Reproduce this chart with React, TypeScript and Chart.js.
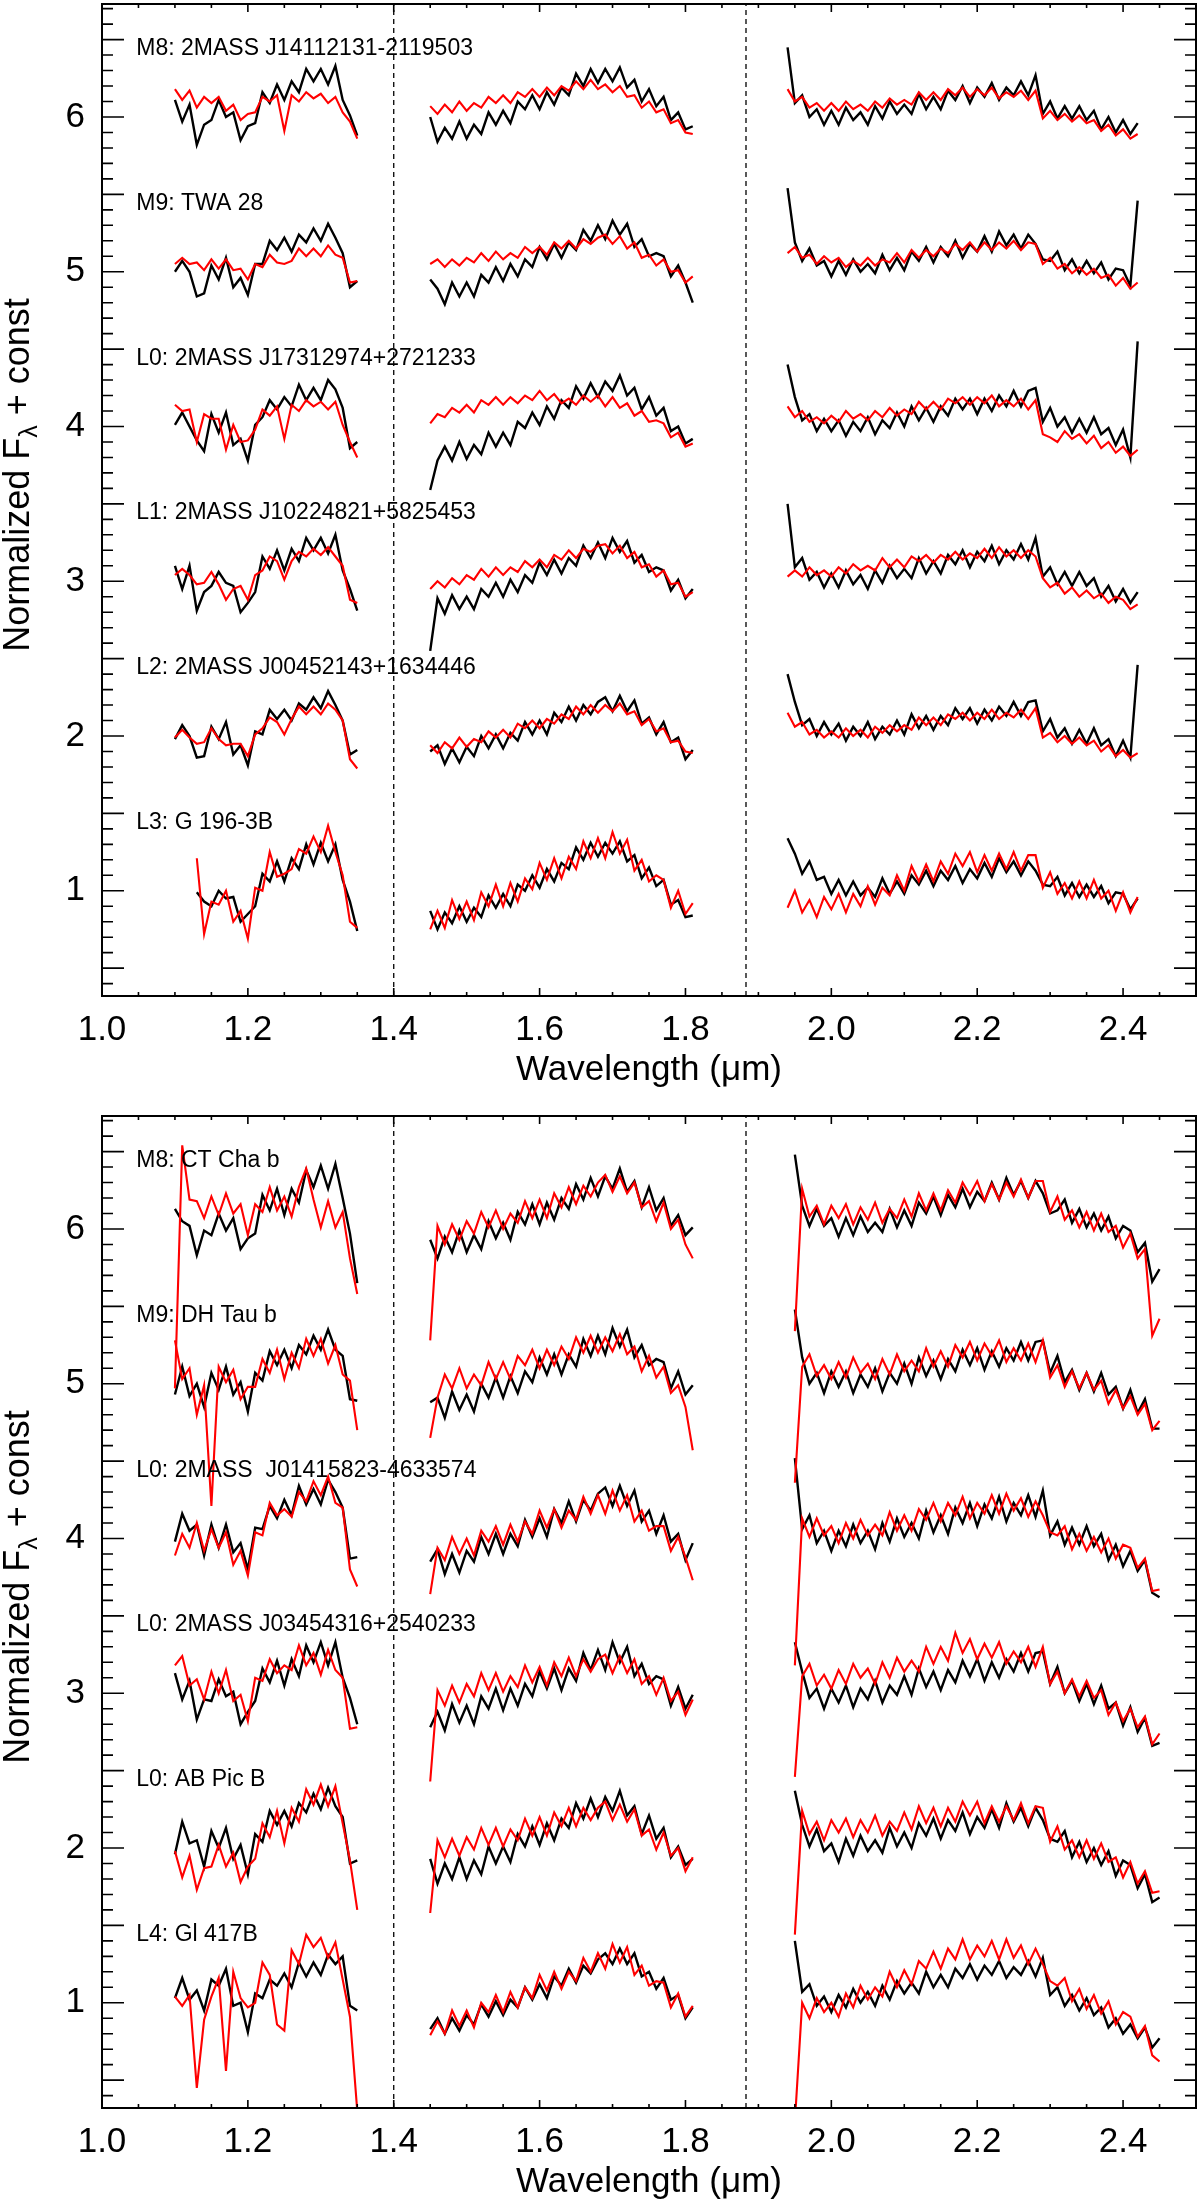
import { useEffect, useRef } from "react";
import { Chart, registerables } from "chart.js";

Chart.register(...registerables);

const FONT = '"Liberation Sans", Arial, Helvetica, sans-serif';
const BLACK = "#000000";
const RED = "#ff0000";

// axes
const X_MIN = 1.0;
const X_MAX = 2.5;
const Y_MIN = 0.32;
const Y_MAX = 6.73;
const X_TICKS = [1.0, 1.2, 1.4, 1.6, 1.8, 2.0, 2.2, 2.4];
const Y_TICKS = [1, 2, 3, 4, 5, 6];
const X_TITLE = "Wavelength (\u03bcm)";
const Y_TITLE = ["Normalized F", "\u03bb", " + const"];
const GAP_LINES = [1.4, 1.883];

// vertical offsets ("+ const") of the six spectra in each panel, top to bottom
const OFFSETS = [6, 5, 4, 3, 2, 1];
const LABEL_X = 1.047;
const LABEL_DY = 0.44;

const TOP_LABELS = [
  "M8: 2MASS J14112131-2119503",
  "M9: TWA 28",
  "L0: 2MASS J17312974+2721233",
  "L1: 2MASS J10224821+5825453",
  "L2: 2MASS J00452143+1634446",
  "L3: G 196-3B",
];
const BOT_LABELS = [
  "M8: CT Cha b",
  "M9: DH Tau b",
  "L0: 2MASS  J01415823-4633574",
  "L0: 2MASS J03454316+2540233",
  "L0: AB Pic B",
  "L4: Gl 417B",
];

// wavelength samples (um) of the three bands
const J_X = [1.10, 1.11, 1.12, 1.13, 1.14, 1.15, 1.16, 1.17, 1.18, 1.19, 1.20, 1.21, 1.22, 1.23, 1.24, 1.25, 1.26, 1.27, 1.28, 1.29, 1.30, 1.31, 1.32, 1.33, 1.34, 1.35];
const H_X = [1.45, 1.46, 1.47, 1.48, 1.49, 1.50, 1.51, 1.52, 1.53, 1.54, 1.55, 1.56, 1.57, 1.58, 1.59, 1.60, 1.61, 1.62, 1.63, 1.64, 1.65, 1.66, 1.67, 1.68, 1.69, 1.70, 1.71, 1.72, 1.73, 1.74, 1.75, 1.76, 1.77, 1.78, 1.79, 1.80, 1.81];
const K_X_TOP = [1.94, 1.95, 1.96, 1.97, 1.98, 1.99, 2.00, 2.01, 2.02, 2.03, 2.04, 2.05, 2.06, 2.07, 2.08, 2.09, 2.10, 2.11, 2.12, 2.13, 2.14, 2.15, 2.16, 2.17, 2.18, 2.19, 2.20, 2.21, 2.22, 2.23, 2.24, 2.25, 2.26, 2.27, 2.28, 2.29, 2.30, 2.31, 2.32, 2.33, 2.34, 2.35, 2.36, 2.37, 2.38, 2.39, 2.40, 2.41, 2.42];
const K_X_BOT = [1.95, 1.96, 1.97, 1.98, 1.99, 2.00, 2.01, 2.02, 2.03, 2.04, 2.05, 2.06, 2.07, 2.08, 2.09, 2.10, 2.11, 2.12, 2.13, 2.14, 2.15, 2.16, 2.17, 2.18, 2.19, 2.20, 2.21, 2.22, 2.23, 2.24, 2.25, 2.26, 2.27, 2.28, 2.29, 2.30, 2.31, 2.32, 2.33, 2.34, 2.35, 2.36, 2.37, 2.38, 2.39, 2.40, 2.41, 2.42, 2.43, 2.44, 2.45];

// all spectra: (flux - offset) in hundredths, one row per object, top to bottom

// ---- upper panel, black ----
const TOP_BLACK_J = [
  [11, -3, 8, -18, -5, -2, 11, 0, 3, -15, -6, -4, 16, 9, 21, 11, 23, 16, 31, 23, 31, 21, 33, 11, 1, -12],
  [0, 7, 0, -16, -14, 4, -5, 9, -10, -4, -15, 5, 5, 20, 14, 22, 13, 24, 19, 28, 20, 31, 22, 12, -10, -6],
  [1, 9, 0, -9, -16, 8, -4, 9, -12, -8, -22, 1, 6, 17, 11, 19, 13, 27, 17, 25, 17, 30, 24, 12, -14, -10],
  [10, -5, 10, -19, -7, -3, 6, -1, -3, -20, -14, -7, 16, 8, 20, 7, 21, 13, 28, 20, 28, 18, 30, 7, -5, -19],
  [-2, 7, 0, -14, -13, 6, -2, 9, -12, -6, -19, 3, 1, 17, 11, 17, 10, 21, 17, 25, 18, 29, 20, 10, -12, -9],
  [null, null, null, -1, -7, -10, 0, -5, -4, -20, -15, -10, 11, 6, 19, 6, 21, 14, 30, 17, 31, 19, 30, 7, -7, -26],
];
const TOP_BLACK_H = [
  [0, -16, -7, -14, -3, -14, -5, -11, 3, -5, 4, -4, 10, 5, 14, 5, 16, 8, 19, 14, 28, 20, 31, 22, 31, 23, 32, 19, 24, 10, 18, 7, 13, -2, 3, -8, -6],
  [-5, -11, -21, -7, -16, -7, -16, -2, -7, 3, -6, 5, -3, 8, 3, 16, 8, 18, 9, 19, 14, 27, 20, 30, 21, 33, 24, 31, 16, 21, 10, 12, 10, -3, 4, -7, -20],
  [-41, -22, -13, -22, -10, -21, -12, -18, -4, -13, -4, -12, 3, -1, 9, 1, 13, 5, 17, 12, 26, 18, 28, 19, 29, 23, 33, 20, 25, 11, 19, 7, 12, -3, 0, -11, -8],
  [-45, -11, -21, -9, -18, -10, -18, -5, -10, -1, -10, 1, -7, 4, -1, 12, 4, 14, 5, 15, 10, 23, 15, 25, 15, 28, 19, 26, 12, 17, 6, 9, 7, -6, 1, -11, -5],
  [-10, -6, -18, -8, -17, -7, -13, 0, -8, 1, -8, 2, -3, 9, 1, 10, 1, 15, 9, 19, 10, 20, 14, 22, 25, 16, 26, 16, 23, 8, 12, 1, 9, -4, -1, -15, -9],
  [-13, -25, -14, -21, -10, -20, -11, -17, -3, -11, -2, -10, 4, 0, 10, 2, 14, 6, 18, 14, 28, 20, 31, 22, 31, 24, 32, 19, 23, 8, 15, 3, 7, -9, -6, -17, -16],
];
const TOP_BLACK_K = [
  [45, 9, 14, 0, 5, -5, 4, -5, 6, -2, 3, -5, 7, -1, 10, 2, 8, 2, 15, 5, 13, 5, 17, 11, 20, 9, 19, 13, 22, 11, 19, 14, 23, 14, 27, 2, 10, -1, 7, -1, 7, -2, 4, -8, 0, -10, -2, -11, -4],
  [54, 19, 7, 15, 4, 7, -3, 7, -2, 8, 0, 5, -1, 11, 1, 9, 1, 13, 7, 16, 6, 16, 10, 20, 9, 18, 13, 23, 13, 26, 17, 24, 15, 24, 18, 8, 7, 13, 1, 8, -1, 7, -1, 6, -5, 2, 1, -9, 46],
  [40, 19, 4, 8, -3, 5, -3, 4, -6, 3, -3, 6, -5, 4, -1, 9, 0, 13, 4, 12, 3, 13, 7, 18, 11, 18, 8, 18, 10, 20, 13, 23, 13, 23, 25, 3, 12, 0, 6, -4, 5, -4, 6, -5, -1, -12, -2, -20, 55],
  [50, 9, 15, 1, 6, -4, 5, -4, 7, -2, 4, -5, 7, -1, 10, 2, 8, 2, 15, 5, 13, 5, 17, 11, 20, 9, 19, 13, 23, 11, 20, 14, 24, 14, 28, 3, 9, -2, 6, -3, 6, -3, 2, -10, -3, -13, -5, -14, -7],
  [40, 22, 7, 11, 0, 9, 1, 8, -3, 6, 0, 9, -2, 6, 1, 10, 1, 14, 5, 13, 4, 13, 7, 18, 11, 18, 8, 17, 10, 19, 13, 22, 13, 22, 23, 3, 11, -1, 5, -5, 4, -5, 5, -6, -2, -13, -3, -14, 46],
  [34, 24, 11, 19, 7, 9, -2, 7, -3, 6, -3, 2, -4, 8, -2, 6, -2, 10, 4, 13, 3, 13, 7, 16, 5, 14, 8, 18, 9, 21, 12, 19, 10, 19, 13, 4, 3, 9, -3, 5, -4, 4, -4, 3, -8, -1, -2, -12, -5],
];

// ---- upper panel, red ----
const TOP_RED_J = [
  [18, 11, 17, 6, 13, 9, 13, 4, 8, -2, 2, 3, 13, 10, 14, -9, 14, 10, 16, 12, 15, 9, 13, 3, -3, -14],
  [5, 9, 5, 6, 1, 8, 2, 8, 1, 2, -5, 5, 3, 11, 6, 5, 7, 15, 10, 15, 10, 17, 11, 9, -7, -6],
  [14, 10, 11, -10, 8, 5, 5, -15, 1, -10, -9, -2, 11, 7, 13, -8, 14, 10, 17, 13, 16, 11, 16, 1, -10, -20],
  [4, 8, 4, -2, -1, 6, -2, -12, -5, -3, -12, 4, 7, 16, 13, 1, 13, 19, 16, 21, 17, 22, 16, 10, -12, -14],
  [-1, 4, -1, -5, -4, 5, -2, -6, -5, -5, -13, 1, 5, 12, 9, 1, 11, 19, 14, 19, 14, 21, 17, 10, -15, -21],
  [null, null, null, 21, -28, -7, -9, 0, -20, -13, -31, 2, 0, 25, 9, 11, 14, 27, 24, 35, 25, 42, 25, 10, -20, -24],
];
const TOP_RED_H = [
  [7, 2, 8, 3, 10, 4, 9, 6, 13, 9, 14, 9, 16, 13, 18, 13, 19, 14, 20, 17, 23, 18, 24, 18, 21, 16, 20, 13, 14, 6, 10, 3, 5, -4, -2, -10, -11],
  [5, 8, 3, 8, 4, 9, 6, 12, 7, 13, 8, 12, 9, 16, 12, 16, 11, 19, 15, 20, 15, 21, 18, 22, 24, 18, 23, 15, 19, 9, 11, 4, 8, 0, 1, -7, -3],
  [2, 8, 6, 12, 9, 14, 9, 17, 14, 19, 14, 19, 15, 20, 17, 23, 17, 21, 15, 18, 14, 20, 16, 20, 13, 19, 12, 15, 7, 10, 3, 4, 2, -7, -4, -13, -11],
  [-5, 0, -4, 2, -2, 4, 1, 8, 3, 9, 4, 9, 6, 13, 9, 14, 9, 17, 14, 20, 15, 21, 19, 23, 24, 18, 23, 15, 19, 9, 11, 3, 7, -2, -1, -10, -7],
  [-6, -11, -4, -8, -1, -7, -2, -4, 3, -1, 4, -1, 8, 5, 10, 5, 11, 8, 14, 11, 19, 14, 20, 15, 20, 16, 21, 14, 16, 7, 11, 3, 5, -4, -3, -10, -11],
  [-25, -13, -24, -6, -18, -7, -19, -1, -10, 4, -10, 5, -7, 8, 1, 18, 7, 21, 8, 22, 14, 32, 21, 34, 21, 38, 24, 33, 13, 20, 6, 10, 7, -11, 0, -15, -8],
];
const TOP_RED_K = [
  [18, 10, 13, 6, 9, 4, 9, 4, 10, 5, 8, 4, 10, 6, 12, 8, 11, 8, 16, 11, 16, 11, 18, 14, 19, 13, 18, 14, 19, 12, 16, 13, 17, 11, 17, -1, 4, -2, 2, -3, 1, -4, -2, -9, -5, -12, -8, -14, -11],
  [12, 16, 9, 11, 5, 10, 6, 9, 3, 7, 4, 9, 4, 8, 6, 12, 6, 14, 9, 14, 10, 15, 12, 18, 14, 19, 13, 19, 14, 19, 15, 20, 14, 19, 18, 5, 9, 2, 5, -1, 3, -2, 2, -4, -2, -9, -4, -11, -7],
  [13, 6, 10, 3, 6, 2, 7, 3, 10, 5, 8, 4, 10, 6, 12, 7, 11, 8, 16, 11, 16, 11, 18, 15, 19, 14, 19, 15, 20, 13, 17, 13, 18, 11, 17, -5, -7, -10, -3, -8, -5, -11, -6, -14, -10, -17, -13, -19, -15],
  [3, 7, 3, 9, 4, 7, 3, 9, 5, 11, 7, 10, 7, 15, 9, 14, 9, 16, 13, 17, 12, 17, 14, 19, 14, 18, 15, 21, 15, 22, 16, 20, 15, 20, 16, 2, -4, -1, -8, -4, -10, -6, -11, -8, -14, -10, -12, -18, -15],
  [15, 6, 9, 1, 4, -1, 3, -1, 5, 0, 4, -1, 6, 2, 7, 3, 7, 4, 12, 7, 12, 7, 14, 11, 15, 10, 15, 11, 17, 11, 15, 12, 17, 11, 18, -1, 2, -4, 0, -5, -1, -6, -3, -10, -6, -13, -9, -14, -11],
  [-11, 0, -14, -6, -17, -4, -12, -2, -14, -2, -10, 3, -9, 2, -3, 10, 0, 16, 6, 17, 6, 19, 11, 24, 16, 25, 12, 23, 13, 24, 14, 25, 13, 23, 23, 2, 12, -2, 5, -5, 6, -5, 7, -5, 0, -13, -1, -14, -4],
];

// ---- lower panel, black ----
const BOT_BLACK_J = [
  [13, 5, 2, -17, -1, -4, 10, -1, 7, -13, -6, -3, 22, 12, 26, 9, 26, 17, 38, 27, 41, 26, 42, 20, -3, -35],
  [-7, 11, -8, 0, -15, 7, -4, 11, -7, 1, -18, 7, 2, 21, 12, 22, 10, 25, 19, 31, 22, 35, 22, 18, -10, -11],
  [-2, 16, 5, 9, -11, 9, -6, 9, -9, -3, -20, 7, 6, 21, 13, 25, 15, 34, 22, 32, 22, 38, 30, 20, -13, -12],
  [13, -4, 8, -17, -4, -5, 9, -2, 1, -20, -12, -5, 16, 7, 21, 5, 22, 11, 31, 20, 33, 18, 33, 10, -3, -20],
  [-4, 17, 3, 5, -12, 11, 0, 13, -7, 2, -17, 9, 4, 24, 15, 24, 14, 29, 23, 35, 25, 39, 27, 20, -10, -8],
  [3, 16, 2, 8, -5, 15, 11, 22, -2, 0, -19, 6, 3, 15, 11, 19, 10, 26, 17, 26, 18, 31, 25, 30, -2, -5],
];
const BOT_BLACK_H = [
  [-7, -19, -5, -15, -1, -15, -4, -13, 5, -6, 4, -7, 11, 3, 16, 3, 17, 6, 20, 13, 29, 19, 33, 21, 34, 26, 39, 24, 31, 14, 27, 12, 20, 2, 9, -4, 1],
  [-12, -9, -22, -5, -17, -7, -18, 0, -9, 4, -9, 5, -6, 8, 1, 17, 6, 19, 6, 19, 11, 29, 18, 31, 19, 36, 24, 35, 17, 25, 12, 16, 14, -3, 8, -7, -1],
  [-15, -7, -23, -10, -22, -8, -15, 1, -10, 3, -10, 3, -5, 12, 1, 13, 1, 19, 10, 24, 11, 25, 18, 29, 33, 21, 34, 21, 31, 11, 18, 3, 15, -2, 3, -14, -3],
  [-22, -12, -24, -7, -19, -8, -20, -2, -10, 3, -11, 3, -8, 6, -2, 14, 3, 16, 2, 16, 8, 26, 15, 28, 15, 33, 20, 30, 11, 19, 6, 11, 9, -8, 4, -10, -1],
  [-7, -23, -10, -20, -6, -20, -8, -17, 1, -10, 1, -9, 9, 1, 14, 2, 16, 5, 19, 13, 29, 19, 32, 20, 33, 24, 37, 21, 27, 9, 21, 6, 13, -6, 1, -11, -7],
  [-17, -10, -20, -10, -18, -8, -14, -1, -9, 1, -8, 2, -3, 10, 2, 12, 3, 17, 11, 22, 13, 24, 19, 28, 32, 25, 35, 25, 32, 17, 20, 9, 16, 2, 5, -10, -3],
];
const BOT_BLACK_K = [
  [48, 15, 2, 13, 2, 7, -5, 7, -4, 8, -2, 4, -2, 13, 1, 12, 2, 17, 10, 21, 9, 22, 14, 26, 14, 24, 18, 30, 19, 33, 22, 31, 20, 31, 23, 10, 12, 19, 4, 13, 1, 10, -1, 8, -6, 2, -1, -15, -9, -34, -26],
  [48, 17, 0, 7, -6, 8, -2, 8, -6, 6, -2, 10, -5, 7, 0, 13, 0, 17, 5, 15, 3, 16, 8, 22, 12, 23, 9, 21, 11, 23, 15, 27, 15, 27, 28, 7, 18, 1, 9, -4, 7, -5, 7, -7, -2, -16, -4, -19, -10, -29, -29],
  [52, 6, 15, -3, 5, -8, 5, -5, 9, -3, 5, -7, 10, -2, 13, 1, 10, 0, 18, 4, 15, 3, 20, 10, 23, 8, 22, 13, 27, 11, 23, 15, 28, 14, 31, 2, 11, -4, 7, -4, 8, -5, 3, -14, -4, -18, -8, -21, -14, -35, -38],
  [33, 14, -3, 3, -10, 3, -6, 5, -9, 3, -4, 8, -6, 5, -1, 11, -1, 16, 4, 14, 2, 15, 7, 21, 11, 22, 8, 20, 10, 22, 14, 26, 14, 26, 27, 6, 17, 0, 8, -5, 6, -7, 5, -10, -6, -21, -9, -25, -16, -34, -32],
  [37, 15, 1, 12, -2, 3, -9, 6, -5, 8, -2, 5, -3, 13, 1, 10, 0, 16, 8, 19, 6, 18, 11, 23, 9, 20, 13, 25, 13, 29, 17, 26, 14, 26, 18, 6, 4, 11, -6, 4, -9, 0, -11, -2, -18, -8, -11, -26, -17, -35, -32],
  [40, 7, 12, -2, 4, -6, 5, -3, 9, 0, 7, -2, 11, 2, 14, 6, 13, 6, 20, 10, 18, 10, 22, 16, 25, 15, 24, 18, 27, 16, 23, 18, 27, 17, 29, 5, 10, -2, 5, -5, 3, -8, -3, -16, -10, -20, -14, -23, -16, -29, -23],
];

// ---- lower panel, red ----
const BOT_RED_J = [
  [-103, 54, 19, 18, 7, 21, 9, 23, 10, 16, -4, 16, 11, 27, 12, 21, 8, 27, 39, 19, 1, 18, 1, 11, -19, -42],
  [28, 3, 10, -20, -1, -79, 11, 1, 9, -10, -2, -2, 16, 7, 22, 3, 20, 10, 29, 18, 29, 13, 25, 6, 2, -30],
  [-11, 3, -6, 10, -8, 6, -6, 4, -17, -8, -24, 4, 2, 23, 15, 19, 14, 30, 24, 37, 28, 40, 23, 20, -20, -31],
  [18, 24, 5, 9, -4, 14, 0, 15, -5, -1, -18, 10, 8, 22, 13, 18, 15, 31, 18, 26, 12, 28, 15, 10, -23, -22],
  [-2, -19, -5, -27, -13, -12, 2, -12, -3, -22, -12, -7, 16, 7, 24, 3, 26, 17, 38, 28, 41, 27, 40, 16, -8, -40],
  [4, -2, 5, -55, -11, 4, 16, -44, 20, 3, -3, 0, 26, 18, -14, -18, 34, 25, 44, 36, 42, 29, 39, 15, -9, -70],
];
const BOT_RED_H = [
  [-72, 2, -10, 3, -7, 5, -3, 11, 1, 12, 0, 10, 4, 18, 7, 19, 7, 23, 14, 27, 16, 28, 21, 30, 35, 24, 34, 23, 30, 14, 18, 5, 17, 0, 6, -10, -19],
  [-35, -9, 6, -3, 10, -3, 6, -1, 14, 3, 14, 3, 18, 12, 22, 10, 22, 12, 24, 16, 30, 20, 31, 20, 30, 21, 32, 19, 24, 8, 18, 4, 11, -6, -1, -15, -43],
  [-36, -6, -14, 1, -10, 0, -11, 5, -2, 8, -4, 9, -2, 11, 3, 18, 7, 19, 7, 18, 12, 27, 16, 28, 16, 31, 18, 28, 11, 18, 5, 8, 8, -8, 1, -12, -27],
  [-57, 2, -8, 5, -6, 6, -2, 13, 2, 13, 1, 11, 4, 18, 7, 17, 5, 20, 11, 23, 11, 22, 14, 22, 25, 13, 24, 13, 22, 6, 11, -1, 10, -5, 1, -14, -4],
  [-42, 5, -6, 6, -5, 7, -1, 13, 2, 13, 1, 12, 5, 19, 8, 20, 8, 23, 14, 26, 14, 26, 18, 26, 30, 18, 28, 17, 25, 8, 12, -1, 10, -5, 0, -15, -6],
  [-21, -12, -20, -5, -15, -5, -16, 0, -6, 5, -6, 7, -3, 10, 3, 18, 8, 20, 9, 20, 14, 29, 20, 32, 22, 38, 26, 36, 18, 24, 11, 14, 13, -3, 6, -9, -2],
];
const BOT_RED_K = [
  [-66, 26, 8, 15, 3, 15, 7, 16, 3, 14, 6, 17, 4, 13, 7, 19, 8, 23, 12, 23, 12, 25, 17, 30, 22, 31, 18, 29, 19, 30, 21, 32, 20, 31, 31, 11, 21, 6, 12, 1, 11, -1, 10, -2, 2, -12, -3, -19, -13, -69, -58],
  [-64, 11, 19, 5, 12, 3, 14, 4, 17, 7, 13, 3, 16, 6, 19, 8, 15, 8, 23, 11, 21, 11, 25, 17, 27, 15, 26, 18, 28, 14, 23, 15, 26, 14, 28, 4, 12, -2, 8, -3, 7, -4, 2, -13, -4, -16, -8, -20, -13, -30, -24],
  [-82, 13, 1, 13, 2, 8, -3, 10, 0, 12, 2, 9, 2, 17, 5, 15, 5, 19, 12, 23, 11, 23, 15, 27, 13, 23, 16, 28, 16, 29, 18, 26, 14, 24, 15, 4, 2, 8, -7, 3, -8, 1, -9, 0, -13, -4, -6, -19, -13, -34, -33],
  [-54, 11, 19, 5, 12, 3, 15, 6, 19, 10, 16, 6, 20, 10, 23, 14, 21, 14, 30, 19, 30, 21, 39, 26, 35, 22, 32, 23, 33, 19, 27, 20, 30, 17, 30, 6, 14, 0, 9, -2, 8, -3, 2, -14, -6, -18, -10, -22, -15, -33, -26],
  [-56, 24, 9, 17, 5, 18, 10, 19, 7, 18, 10, 21, 8, 17, 11, 23, 12, 27, 16, 26, 14, 26, 17, 30, 21, 30, 16, 27, 17, 27, 18, 29, 16, 27, 26, 4, 14, -1, 5, -6, 5, -7, 3, -9, -6, -19, -9, -23, -15, -29, -28],
  [-77, 0, -10, 3, -6, 0, -9, 6, -3, 11, 2, 10, 4, 20, 10, 21, 12, 27, 22, 33, 22, 35, 28, 41, 28, 37, 30, 40, 28, 41, 29, 37, 25, 35, 25, 14, 11, 16, 1, 9, -4, 5, -7, 1, -14, -6, -9, -22, -15, -34, -38],
];

type Pt = { x: number; y: number | null };

function band(xs: number[], ys: (number | null)[], c: number): Pt[] {
  return xs.map((x, i) => {
    const v = ys[i];
    return { x, y: v == null ? null : c + v / 100 };
  });
}

function spectrum(j: (number | null)[], h: number[], k: number[], kx: number[], c: number): Pt[] {
  return [
    ...band(J_X, j, c),
    { x: GAP_LINES[0], y: null },
    ...band(H_X, h, c),
    { x: GAP_LINES[1], y: null },
    ...band(kx, k, c),
  ];
}

function decorations(labels: string[]) {
  return {
    id: "idlFrame",
    afterDatasetsDraw(chart: any) {
      const { ctx, chartArea: a, scales } = chart;
      const xs = scales.x;
      const ys = scales.y;
      ctx.save();
      ctx.strokeStyle = BLACK;
      ctx.lineWidth = 2;
      ctx.strokeRect(a.left, a.top, a.right - a.left, a.bottom - a.top);

      // inward ticks on all four sides
      ctx.lineWidth = 1.6;
      ctx.beginPath();
      for (let i = 0; i <= 30; i++) {
        const px = xs.getPixelForValue(X_MIN + i * 0.05);
        const len = i % 4 === 0 ? 8 : 4;
        ctx.moveTo(px, a.bottom);
        ctx.lineTo(px, a.bottom - len);
        ctx.moveTo(px, a.top);
        ctx.lineTo(px, a.top + len);
      }
      for (let i = Math.ceil(Y_MIN * 10); i <= Math.floor(Y_MAX * 10); i++) {
        const py = ys.getPixelForValue(i / 10);
        const len = i % 5 === 0 ? 22 : 11;
        ctx.moveTo(a.left, py);
        ctx.lineTo(a.left + len, py);
        ctx.moveTo(a.right, py);
        ctx.lineTo(a.right - len, py);
      }
      ctx.stroke();

      // object names
      ctx.fillStyle = BLACK;
      ctx.font = `23px ${FONT}`;
      ctx.textAlign = "left";
      ctx.textBaseline = "middle";
      labels.forEach((t, i) => {
        ctx.fillText(t, xs.getPixelForValue(LABEL_X), ys.getPixelForValue(OFFSETS[i] + LABEL_DY));
      });

      // rotated y title with subscript lambda
      const big = `36px ${FONT}`;
      const small = `25px ${FONT}`;
      ctx.font = big;
      const w1 = ctx.measureText(Y_TITLE[0]).width;
      const w3 = ctx.measureText(Y_TITLE[2]).width;
      ctx.font = small;
      const w2 = ctx.measureText(Y_TITLE[1]).width;
      ctx.translate(29, (a.top + a.bottom) / 2 - 25);
      ctx.rotate(-Math.PI / 2);
      ctx.textBaseline = "alphabetic";
      const x0 = -(w1 + w2 + w3) / 2;
      ctx.font = big;
      ctx.fillText(Y_TITLE[0], x0, 0);
      ctx.font = small;
      ctx.fillText(Y_TITLE[1], x0 + w1, 8);
      ctx.font = big;
      ctx.fillText(Y_TITLE[2], x0 + w1 + w2, 0);
      ctx.restore();
    },
  };
}

type PanelProps = {
  top: number;
  height: number;
  titlePad: number;
  labels: string[];
  kx: number[];
  blackJ: (number | null)[][];
  blackH: number[][];
  blackK: number[][];
  redJ: (number | null)[][];
  redH: number[][];
  redK: number[][];
};

function Panel(p: PanelProps) {
  const ref = useRef<HTMLCanvasElement | null>(null);

  useEffect(() => {
    const el = ref.current;
    if (!el) return;

    const datasets: any[] = [];
    OFFSETS.forEach((c, i) => {
      datasets.push({
        label: p.labels[i] + " (red)",
        data: spectrum(p.redJ[i], p.redH[i], p.redK[i], p.kx, c),
        borderColor: RED,
        borderWidth: 2.1,
        order: 1,
      });
      datasets.push({
        label: p.labels[i],
        data: spectrum(p.blackJ[i], p.blackH[i], p.blackK[i], p.kx, c),
        borderColor: BLACK,
        borderWidth: 2.4,
        order: 2,
      });
    });
    GAP_LINES.forEach((x) => {
      datasets.push({
        label: "gap",
        data: [
          { x, y: Y_MIN },
          { x, y: Y_MAX },
        ],
        borderColor: BLACK,
        borderWidth: 1.3,
        borderDash: [5, 4],
        order: 3,
      });
    });

    const tickFont = { family: FONT, size: 35 };
    const chart = new Chart(el, {
      type: "line",
      data: { datasets },
      options: {
        animation: false,
        responsive: false,
        devicePixelRatio: 1,
        events: [],
        layout: { padding: { top: 4, right: 4, left: 0, bottom: 0 } },
        elements: { point: { radius: 0 }, line: { tension: 0 } },
        spanGaps: false,
        plugins: { legend: { display: false }, tooltip: { enabled: false } },
        scales: {
          x: {
            type: "linear",
            min: X_MIN,
            max: X_MAX,
            grid: { display: false, drawTicks: false },
            border: { display: false },
            afterBuildTicks: (s: any) => {
              s.ticks = X_TICKS.map((value) => ({ value }));
            },
            afterFit: (s: any) => {
              s.height = p.height - 996;
              s.paddingLeft = 0;
              s.paddingRight = 0;
            },
            ticks: {
              font: tickFont,
              color: BLACK,
              padding: 13,
              maxRotation: 0,
              autoSkip: false,
              callback: (v: any) => Number(v).toFixed(1),
            },
            title: {
              display: true,
              text: X_TITLE,
              color: BLACK,
              font: { family: FONT, size: 35, lineHeight: 1 },
              padding: { top: 0, bottom: p.titlePad },
            },
          },
          y: {
            type: "linear",
            min: Y_MIN,
            max: Y_MAX,
            grid: { display: false, drawTicks: false },
            border: { display: false },
            afterBuildTicks: (s: any) => {
              s.ticks = Y_TICKS.map((value) => ({ value }));
            },
            afterFit: (s: any) => {
              s.width = 102;
              s.paddingTop = 0;
              s.paddingBottom = 0;
            },
            ticks: {
              font: tickFont,
              color: BLACK,
              padding: 17,
              autoSkip: false,
              callback: (v: any) => String(v),
            },
          },
        },
      } as any,
      plugins: [decorations(p.labels)],
    });

    return () => {
      chart.destroy();
    };
  }, []);

  return (
    <canvas
      ref={ref}
      width={1200}
      height={p.height}
      style={{ position: "absolute", left: 0, top: p.top, width: 1200, height: p.height, display: "block" }}
    />
  );
}

export default function App() {
  return (
    <div style={{ position: "absolute", left: 0, top: 0, width: 1200, height: 2201, background: "#fff", overflow: "hidden" }}>
      <Panel
        top={0}
        height={1100}
        titlePad={12.5}
        labels={TOP_LABELS}
        kx={K_X_TOP}
        blackJ={TOP_BLACK_J}
        blackH={TOP_BLACK_H}
        blackK={TOP_BLACK_K}
        redJ={TOP_RED_J}
        redH={TOP_RED_H}
        redK={TOP_RED_K}
      />
      <Panel
        top={1112}
        height={1089}
        titlePad={1.5}
        labels={BOT_LABELS}
        kx={K_X_BOT}
        blackJ={BOT_BLACK_J}
        blackH={BOT_BLACK_H}
        blackK={BOT_BLACK_K}
        redJ={BOT_RED_J}
        redH={BOT_RED_H}
        redK={BOT_RED_K}
      />
    </div>
  );
}
